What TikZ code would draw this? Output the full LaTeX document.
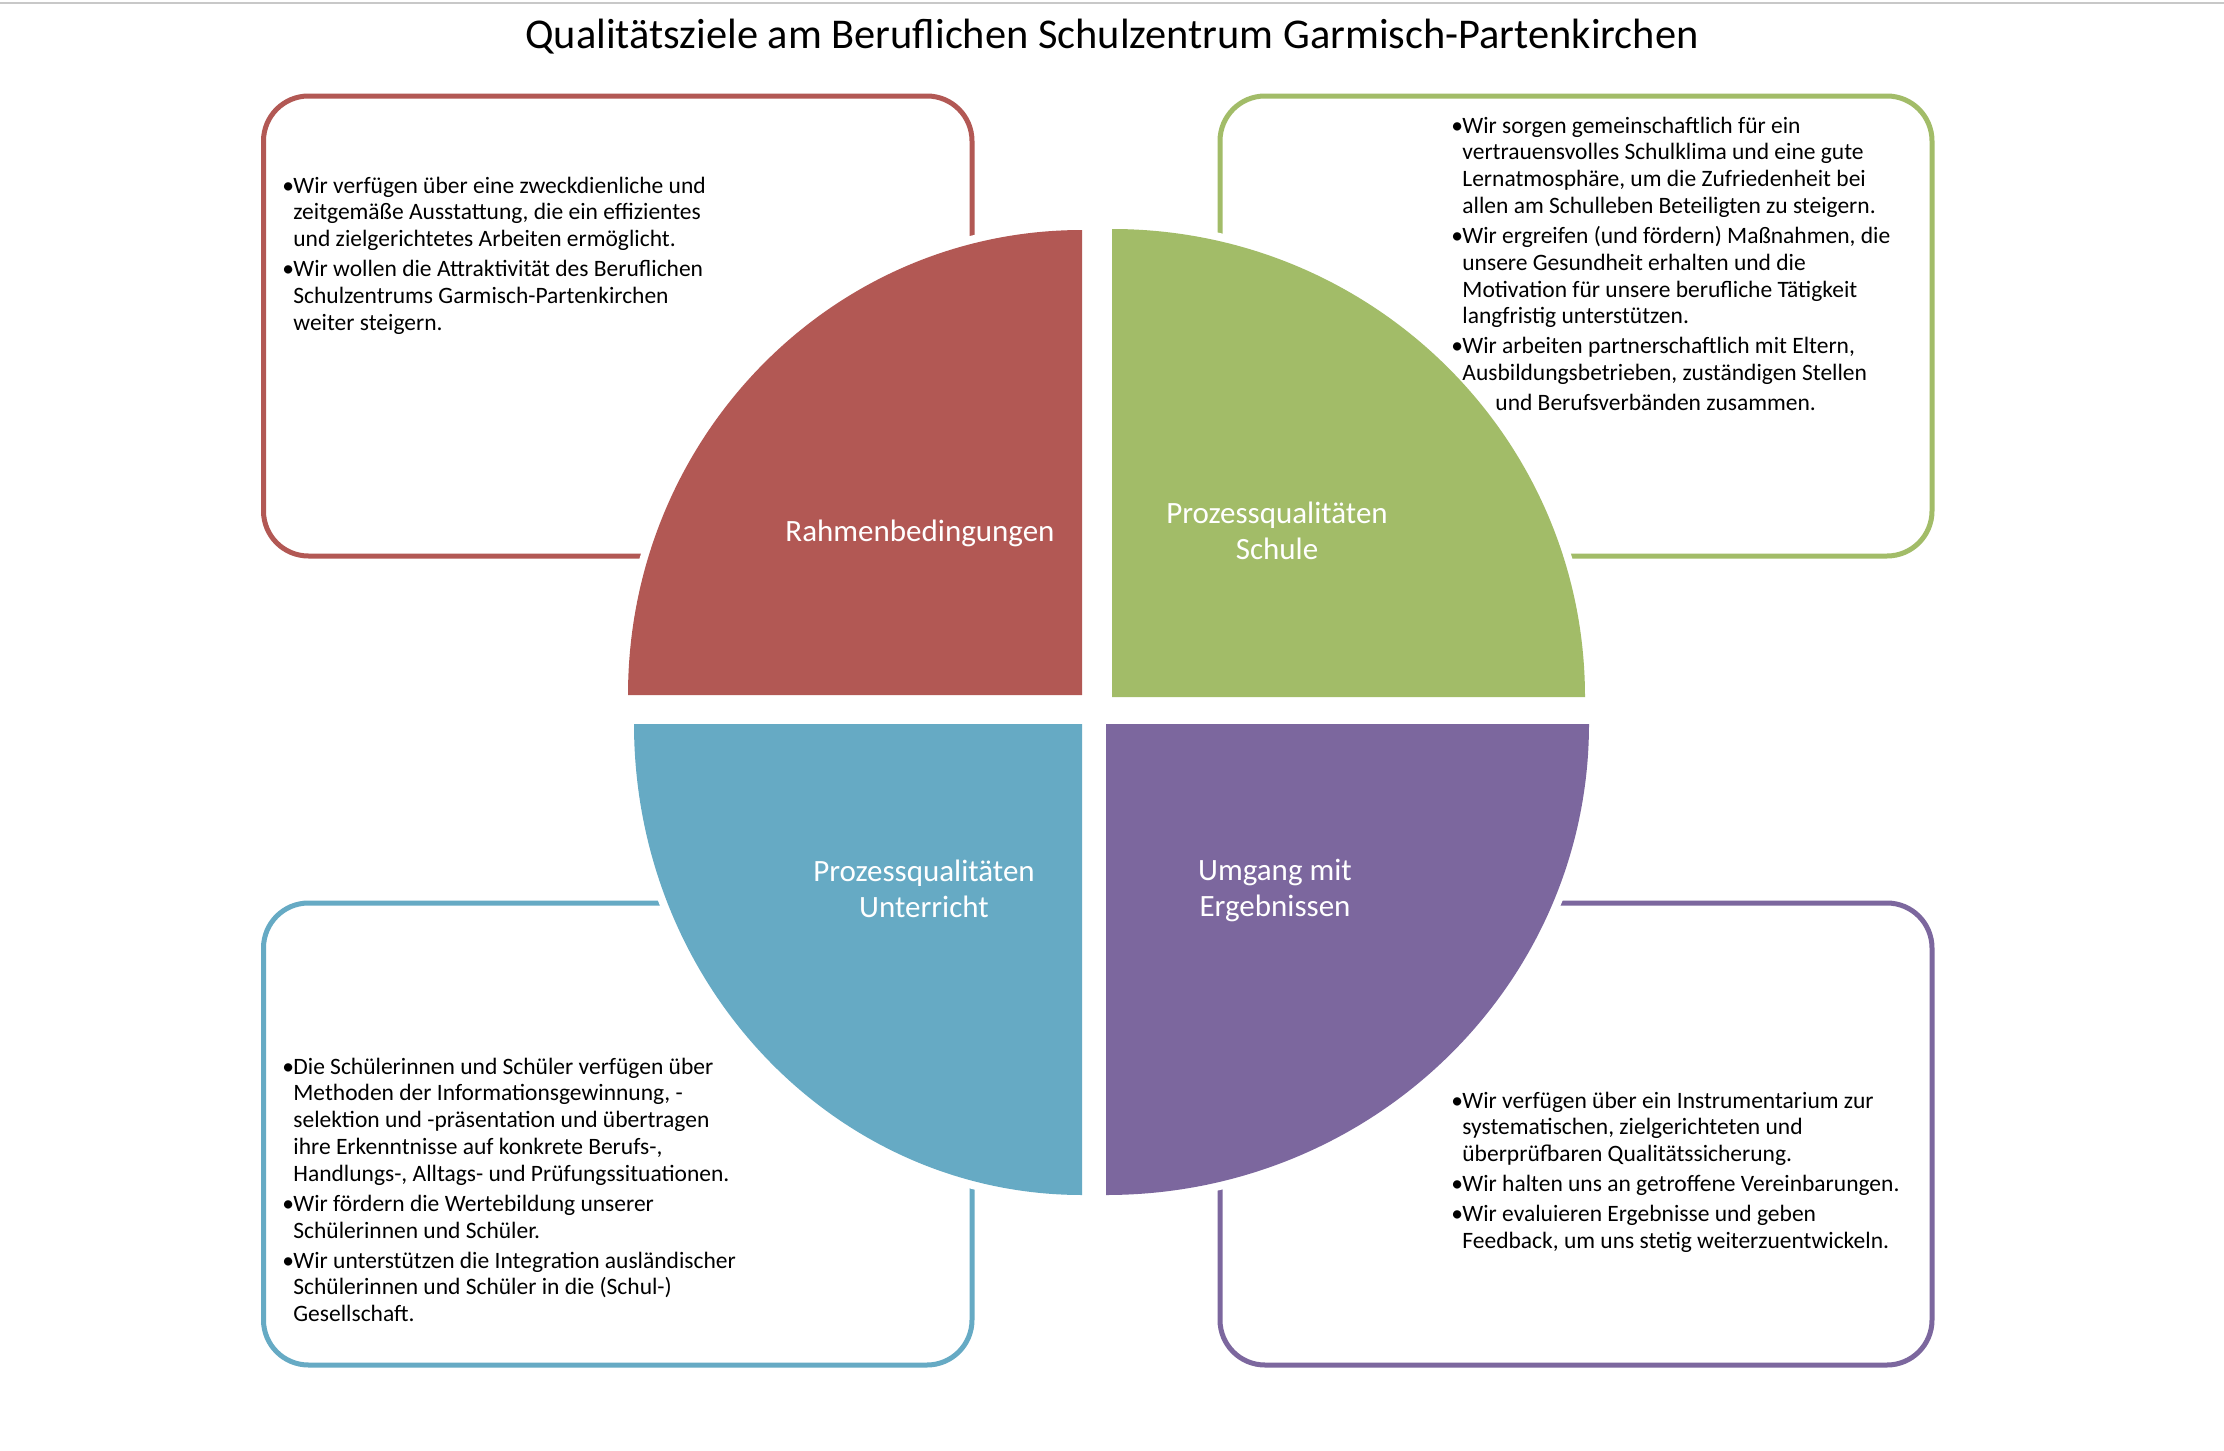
\documentclass[tikz,border=0pt]{standalone}
\usepackage{fontspec}
\setmainfont{Carlito}
\definecolor{cred}{HTML}{B25854}
\definecolor{cgreen}{HTML}{A2BC68}
\definecolor{cblue}{HTML}{66AAC4}
\definecolor{cpurple}{HTML}{7C679E}
\definecolor{cgray}{HTML}{C8C8C8}
\newcommand\blk[1]{\parbox[t]{330pt}{\fontsize{11.75pt}{13.4pt}\selectfont\setlength\parskip{1.6pt}\setlength\parindent{0pt}#1}}
\newcommand\bul{\makebox[5.5pt][l]{\textbullet}}
\newcommand\ind{\hspace*{5.5pt}}
\tikzset{
  qbox/.style={line width=2.5pt, rounded corners=22.5pt},
  halo/.style={draw=white, line width=8pt},
  lbl/.style={text=white, align=center, font=\fontsize{15.5pt}{18pt}\selectfont, inner sep=0pt},
  body/.style={anchor=base west, inner sep=0pt, text=black}
}
\begin{document}
\begin{tikzpicture}[x=0.5pt,y=-0.5pt]
\useasboundingbox (0,0) rectangle (2224,1451);
\fill[white] (0,0) rectangle (2224,1451);
\draw[cgray, line width=1pt] (0,3) -- (2224,3);
\node[anchor=base, inner sep=0pt, font=\fontsize{21.2pt}{25pt}\selectfont] (title) at (1112,48) {Qualitätsziele am Beruflichen Schulzentrum Garmisch-Partenkirchen};
% boxes
\draw[qbox, cred] (263.5,96) rectangle (972,556);
\draw[qbox, cgreen] (1220,96) rectangle (1932,556);
\draw[qbox, cblue] (263.5,903) rectangle (972,1365);
\draw[qbox, cpurple] (1220,903) rectangle (1932,1365);
% pie halos
\path[halo] (1082,695) -- (628,695) arc[start angle=180, end angle=90, x radius=227pt, y radius=232.5pt] -- cycle;
\path[halo] (1112,697) -- (1112,229) arc[start angle=90, end angle=0, x radius=236.5pt, y radius=234pt] -- cycle;
\path[halo] (1082,724) -- (634,724) arc[start angle=180, end angle=270, x radius=224pt, y radius=235.5pt] -- cycle;
\path[halo] (1106,724) -- (1589,724) arc[start angle=0, end angle=-90, x radius=241.5pt, y radius=235.5pt] -- cycle;
% pies
\fill[cred] (1082,695) -- (628,695) arc[start angle=180, end angle=90, x radius=227pt, y radius=232.5pt] -- cycle;
\fill[cgreen] (1112,697) -- (1112,229) arc[start angle=90, end angle=0, x radius=236.5pt, y radius=234pt] -- cycle;
\fill[cblue] (1082,724) -- (634,724) arc[start angle=180, end angle=270, x radius=224pt, y radius=235.5pt] -- cycle;
\fill[cpurple] (1106,724) -- (1589,724) arc[start angle=0, end angle=-90, x radius=241.5pt, y radius=235.5pt] -- cycle;
% labels
\node[lbl, anchor=base] (l1) at (920,541) {Rahmenbedingungen};
\node[lbl, anchor=base] (l2) at (1277,559) {Prozessqualitäten\\Schule};
\node[lbl, anchor=base] (l3) at (924,917) {Prozessqualitäten\\Unterricht};
\node[lbl, anchor=base] (l4) at (1275,916) {Umgang mit\\Ergebnissen};
% body texts
\node[body] (t1) at (282,193) {\blk{%
\bul Wir verfügen über eine zweckdienliche und\\
\ind zeitgemäße Ausstattung, die ein effizientes\\
\ind und zielgerichtetes Arbeiten ermöglicht.\par
\bul Wir wollen die Attraktivität des Beruflichen\\
\ind Schulzentrums Garmisch-Partenkirchen\\
\ind weiter steigern.}};
\node[body] (t2) at (1451,133) {\blk{%
\bul Wir sorgen gemeinschaftlich für ein\\
\ind vertrauensvolles Schulklima und eine gute\\
\ind Lernatmosphäre, um die Zufriedenheit bei\\
\ind allen am Schulleben Beteiligten zu steigern.\par
\bul Wir ergreifen (und fördern) Maßnahmen, die\\
\ind unsere Gesundheit erhalten und die\\
\ind Motivation für unsere berufliche Tätigkeit\\
\ind langfristig unterstützen.\par
\bul Wir arbeiten partnerschaftlich mit Eltern,\\
\ind Ausbildungsbetrieben, zuständigen Stellen\par
\hspace*{22pt}und Berufsverbänden zusammen.}};
\node[body] (t3) at (282,1074) {\blk{%
\bul Die Schülerinnen und Schüler verfügen über\\
\ind Methoden der Informationsgewinnung, -\\
\ind selektion und -präsentation und übertragen\\
\ind ihre Erkenntnisse auf konkrete Berufs-,\\
\ind Handlungs-, Alltags- und Prüfungssituationen.\par
\bul Wir fördern die Wertebildung unserer\\
\ind Schülerinnen und Schüler.\par
\bul Wir unterstützen die Integration ausländischer\\
\ind Schülerinnen und Schüler in die (Schul-)\\
\ind Gesellschaft.}};
\node[body] (t4) at (1451,1108) {\blk{%
\bul Wir verfügen über ein Instrumentarium zur\\
\ind systematischen, zielgerichteten und\\
\ind überprüfbaren Qualitätssicherung.\par
\bul Wir halten uns an getroffene Vereinbarungen.\par
\bul Wir evaluieren Ergebnisse und geben\\
\ind Feedback, um uns stetig weiterzuentwickeln.}};
\end{tikzpicture}
\end{document}
